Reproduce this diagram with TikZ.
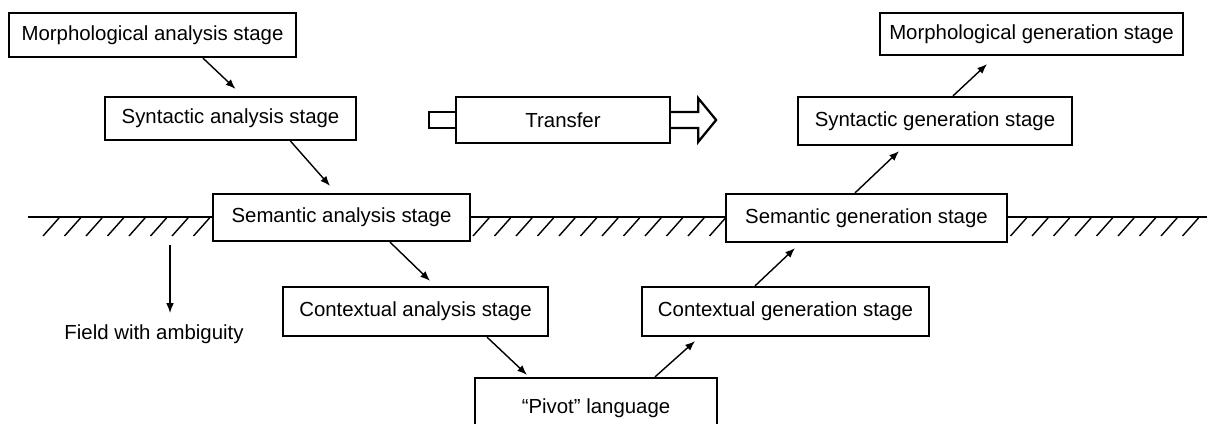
\documentclass[tikz,border=0pt]{standalone}
\usepackage{fontspec}
\setmainfont{Liberation Sans}
\usetikzlibrary{arrows.meta,calc}

\begin{document}
\begin{tikzpicture}[x=0.025cm,y=-0.025cm,
    stagebox/.style 2 args={draw,fill=white,line width=1.6pt,inner sep=0pt,
      minimum width=#1*0.025cm,minimum height=#2*0.025cm,
      font=\fontsize{14.5}{16}\selectfont},
    arr/.style={line width=1pt,-{Latex[length=7pt,width=5.5pt]}},
    ground/.style={line width=1.4pt}]
  \useasboundingbox (0,0) rectangle (1207,423);
  % ground line with hatching
  \draw[ground] (28,217) -- (1207,217);
  \foreach \x in {43,64.5,...,1190}
    \draw[line width=1pt] (\x,236) -- ++(16,-18);
  % stages
  \draw
    (152.5,35) node[stagebox={287}{44}] (morphA){Morphological analysis stage}
    (230.5,118.5) node[stagebox={251}{43}] (syntA){Syntactic analysis stage}
    (341.5,217.5) node[stagebox={257}{47}] (semA){Semantic analysis stage}
    (415.5,311.5) node[stagebox={265}{49}] (contA){Contextual analysis stage}
    (596,408) node[stagebox={242}{60}] (pivot){``Pivot'' language}
    (785.5,311.5) node[stagebox={287}{49}] (contG){Contextual generation stage}
    (866.5,218) node[stagebox={281}{48}] (semG){Semantic generation stage}
    (935,121) node[stagebox={274}{48}] (syntG){Syntactic generation stage}
    (1031.5,34) node[stagebox={303}{42}] (morphG){Morphological generation stage}
    (563,120) node[stagebox={214}{46}] (transfer){Transfer};
  % transfer arrow
  \draw[line width=1.6pt] ($(transfer.west)+(0,-8)$) -- ++(-26,0) -- ++(0,16) -- ++(26,0);
  \draw[line width=1.6pt,line join=miter] ($(transfer.east)+(0,-8)$) -- ++(27,0) -- ++(0,-14)
    -- ++(18,22) -- ++(-18,22) -- ++(0,-14) -- ++(-27,0);
  % arrows between stages
  \begin{scope}[arr]
    \draw ($(morphA.south)+(50.5,0)$) -- ($(syntA.north)+(5,-7)$);
    \draw ($(syntA.south)+(60,0)$) -- ($(semA.north)+(-11.5,-7)$);
    \draw ($(semA.south)+(48.5,0)$) -- ($(contA.north)+(14.5,-5)$);
    \draw ($(contA.south)+(71.5,0)$) -- ($(pivot.north)+(-69,-2)$);
    \draw ($(pivot.north)+(59,0)$) -- ($(contG.south)+(-90.5,4)$);
    \draw ($(contG.north)+(-30.5,0)$) -- ($(semG.south)+(-71.5,5)$);
    \draw ($(semG.north)+(-11.5,0)$) -- ($(syntG.south)+(-36,5)$);
    \draw ($(syntG.north)+(18,0)$) -- ($(morphG.south)+(-44.5,8)$);
  \end{scope}
  % field with ambiguity
  \node[font=\fontsize{14.5}{16}\selectfont] (field) at (154,334) {Field with ambiguity};
  \coordinate (ambtop) at (170,245);
  \draw[arr] (ambtop) -- ++(0,68);
\end{tikzpicture}
\end{document}
